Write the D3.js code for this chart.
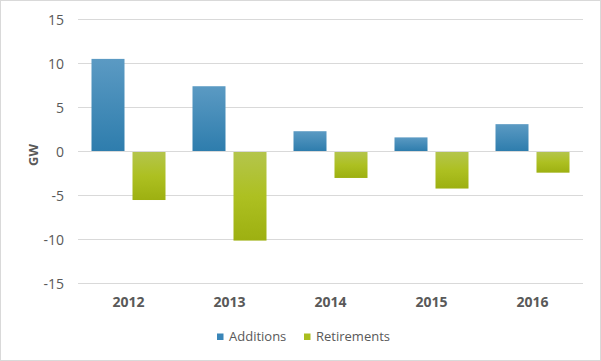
<!DOCTYPE html>
<html><head><meta charset="utf-8">
<script src="https://cdn.jsdelivr.net/npm/d3@7"></script>
<style>body{margin:0;background:#fff}svg{display:block}</style>
</head><body>
<script>
const categories = ["2012","2013","2014","2015","2016"];
const additions = [10.5, 7.4, 2.3, 1.6, 3.1];
const retirements = [-5.5, -10.1, -3.0, -4.2, -2.4];
const yTicks = [-15,-10,-5,0,5,10,15];
const seriesNames = ["Additions","Retirements"];

(function(){
const W=601,H=361;
const FONT="Open Sans";
const svg=d3.select("body").append("svg").attr("width",W).attr("height",H);
const defs=svg.append("defs");
const gb=defs.append("linearGradient").attr("id","gb").attr("x1",0).attr("y1",0).attr("x2",0).attr("y2",1);
gb.append("stop").attr("offset","0%").attr("stop-color","#5b9ac3");
gb.append("stop").attr("offset","100%").attr("stop-color","#2e7dad");
const gg=defs.append("linearGradient").attr("id","gg").attr("x1",0).attr("y1",0).attr("x2",0).attr("y2",1);
gg.append("stop").attr("offset","0%").attr("stop-color","#b4c54c");
gg.append("stop").attr("offset","50%").attr("stop-color","#adc021");
gg.append("stop").attr("offset","100%").attr("stop-color","#9db011");

svg.append("rect").attr("x",0.5).attr("y",0.5).attr("width",W-1).attr("height",H-1).attr("fill","#fff").attr("stroke","#d9d9d9");

const pL=78,pR=583,pT=19.2,pB=283.8;
const y=d3.scaleLinear().domain([-15,15]).range([pB,pT]);
const x=d3.scaleBand().domain(categories).range([pL,pR]);
const bw=33, gap=8;

const grid=svg.append("g");
grid.selectAll("line").data(yTicks).join("line")
 .attr("x1",pL).attr("x2",pR).attr("y1",d=>Math.floor(y(d))+0.5).attr("y2",d=>Math.floor(y(d))+0.5)
 .attr("stroke","#d9d9d9").attr("stroke-width",1);

const yAxis=svg.append("g").attr("transform",`translate(${pL-14},0)`)
 .call(d3.axisLeft(y).tickValues(yTicks).tickFormat(d=>String(d)).tickSize(0).tickPadding(0));
yAxis.select(".domain").remove();
yAxis.selectAll("text").attr("font-family",FONT).attr("font-size","14px").attr("fill","#595959").attr("dy","0.35em");

const xAxis=svg.append("g").attr("transform",`translate(0,${pB})`)
 .call(d3.axisBottom(x).tickSize(0).tickPadding(13));
xAxis.select(".domain").remove();
xAxis.selectAll("text").attr("font-family",FONT).attr("font-size","14px").attr("font-weight","bold").attr("fill","#595959");

const groupW=bw*2+gap;
svg.append("g").selectAll("rect").data(categories).join("rect")
 .attr("x",d=>x(d)+x.bandwidth()/2-groupW/2).attr("width",bw)
 .attr("y",(d,i)=>y(additions[i])).attr("height",(d,i)=>Math.floor(y(0))-y(additions[i]))
 .attr("fill","url(#gb)");
svg.append("g").selectAll("rect").data(categories).join("rect")
 .attr("x",d=>x(d)+x.bandwidth()/2-groupW/2+bw+gap).attr("width",bw)
 .attr("y",Math.floor(y(0))+1).attr("height",(d,i)=>y(retirements[i])-Math.floor(y(0))-1)
 .attr("fill","url(#gg)");

svg.append("text").attr("transform","translate(38,155) rotate(-90)").attr("text-anchor","middle")
 .attr("font-family",FONT).attr("font-size","13px").attr("font-weight","bold").attr("fill","#595959").text("GW");

const leg=svg.append("g");
const legX=[217,304], fills=["#3a86b8","#a9bd1e"];
seriesNames.forEach((n,i)=>{
 leg.append("rect").attr("x",legX[i]).attr("y",333.5).attr("width",6.5).attr("height",6.5).attr("fill",fills[i]);
 leg.append("text").attr("x",legX[i]+12).attr("y",336.5).attr("dy","0.35em").attr("font-family",FONT).attr("font-size","13px").attr("fill","#595959").text(n);
});
})();
</script>
</body></html>
